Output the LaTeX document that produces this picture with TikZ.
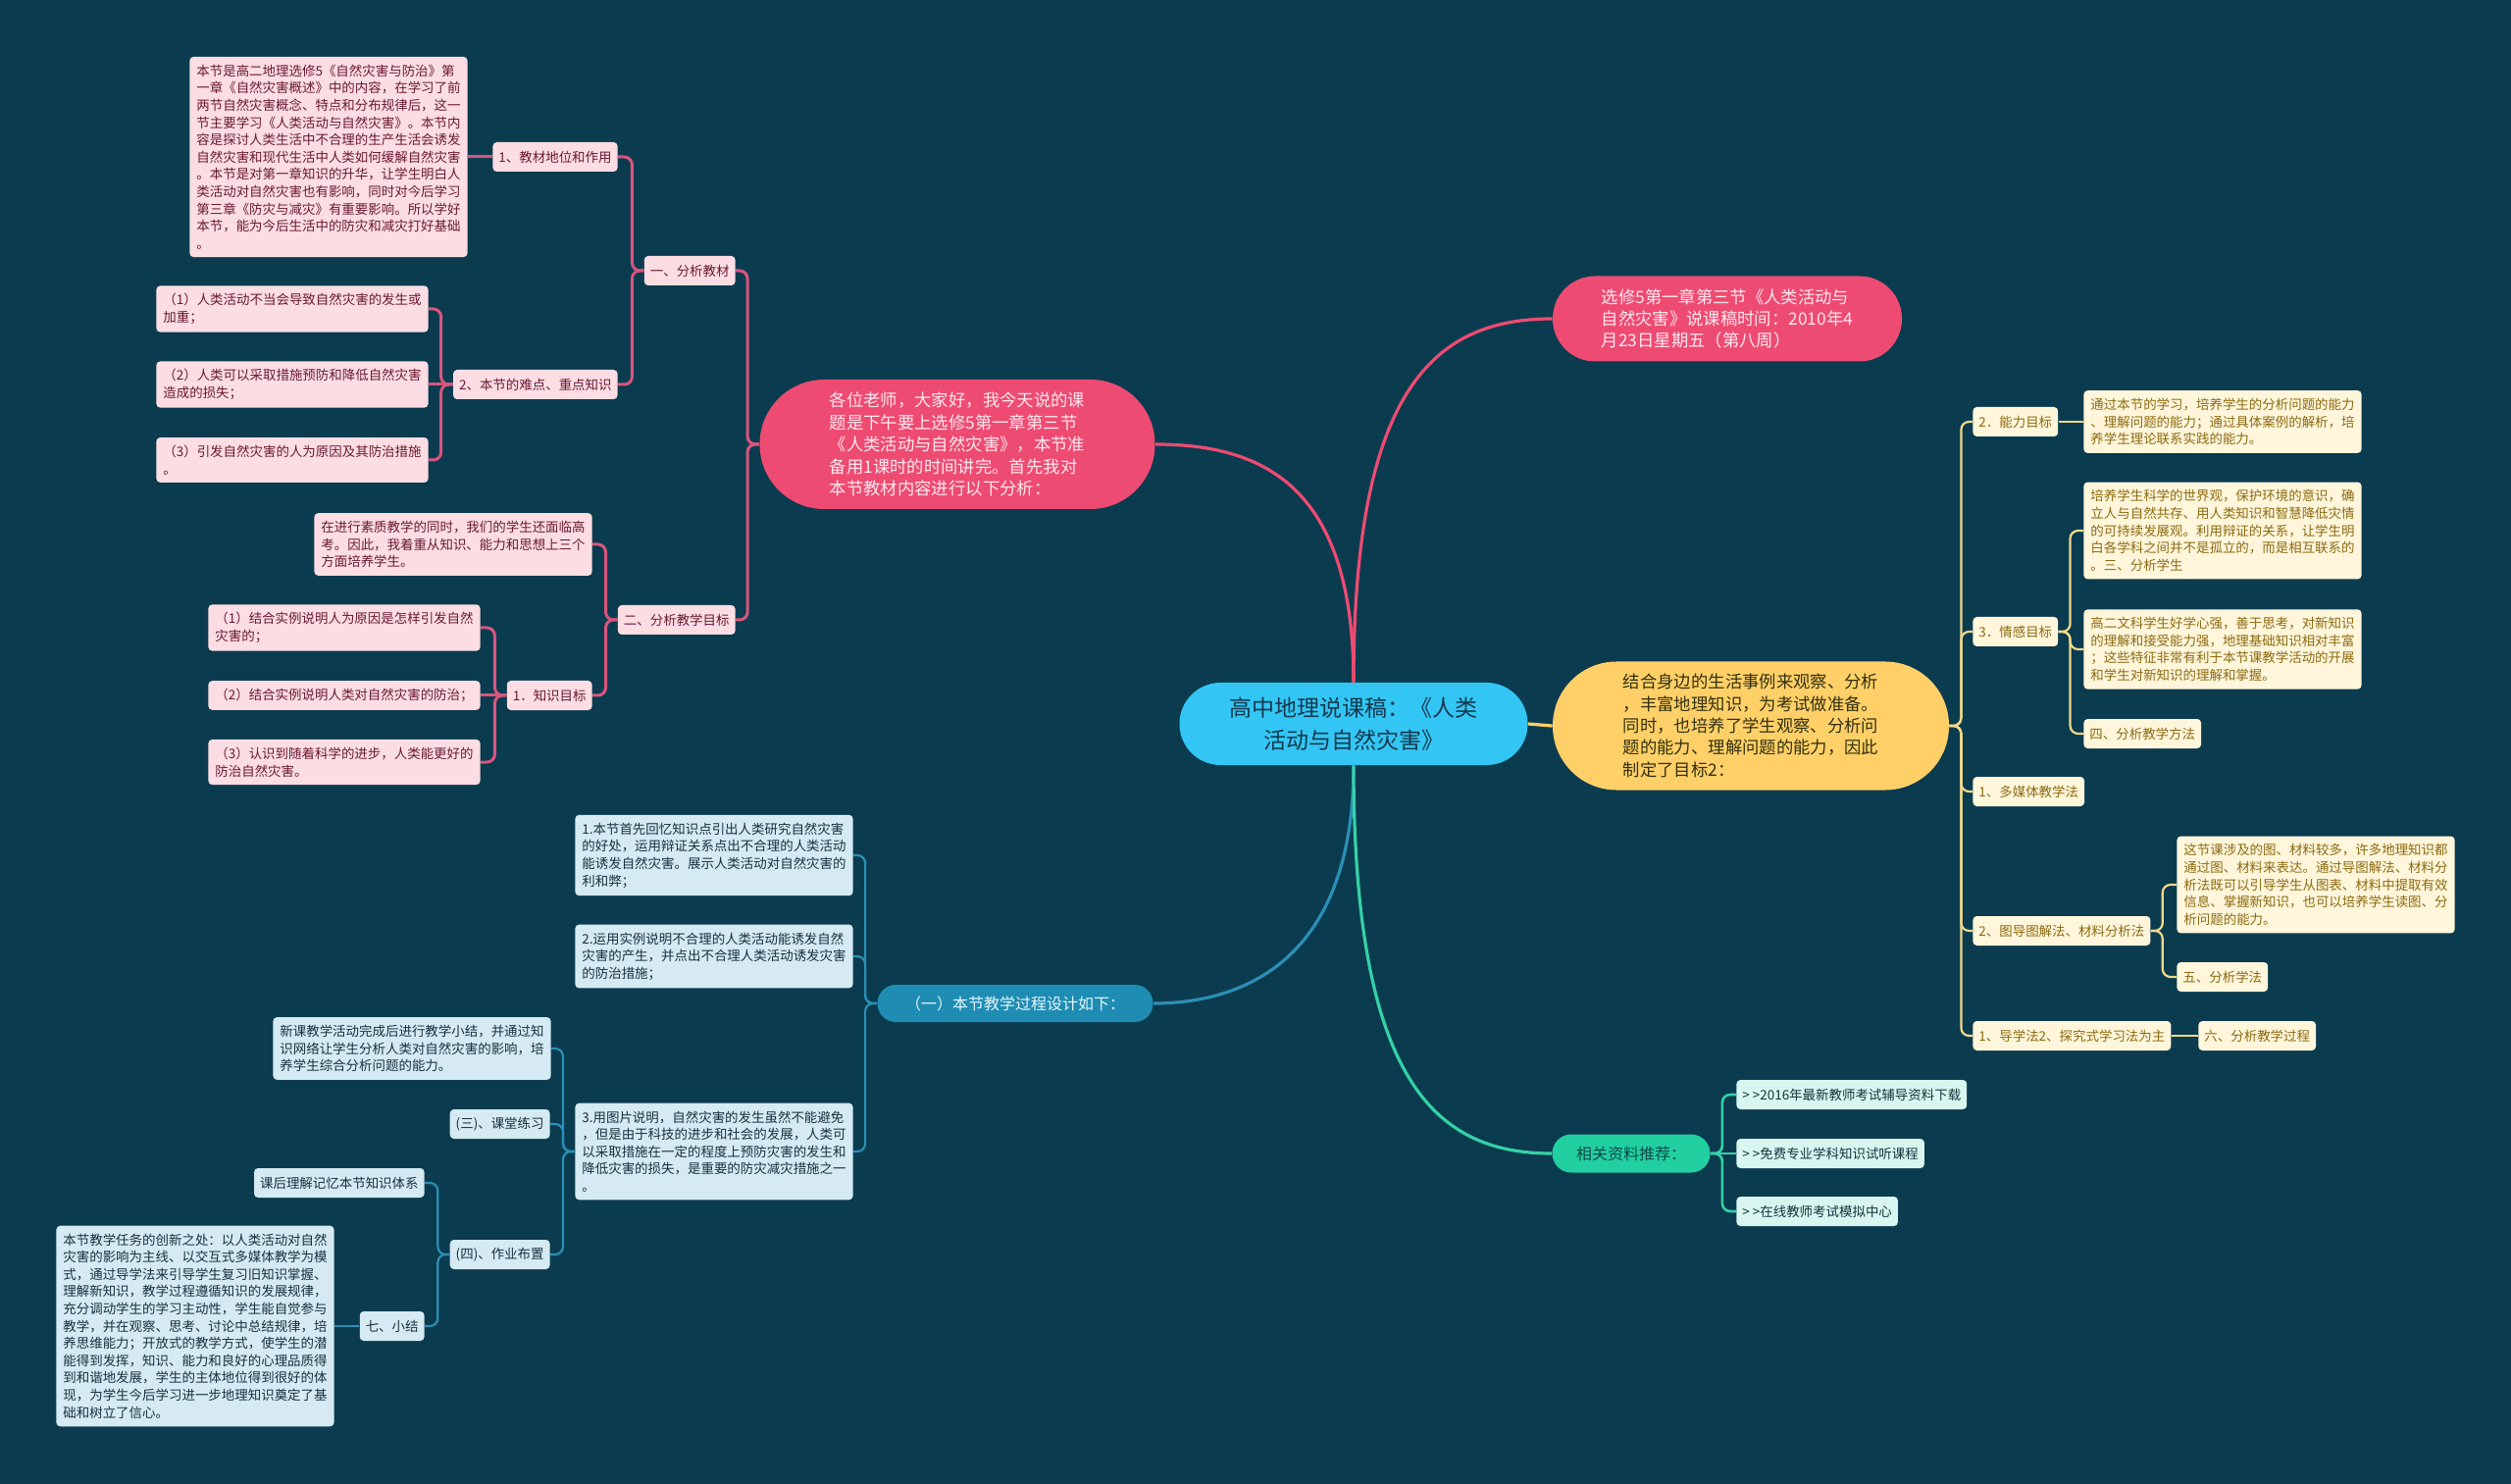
\documentclass[tikz,border=0pt]{standalone}
\usepackage{fontspec}
\setmainfont{Noto Sans CJK SC}
\usetikzlibrary{calc}
\definecolor{bgc}{HTML}{0B3B4F}
\definecolor{cmain}{HTML}{33C6F4}
\definecolor{ctext}{HTML}{14384C}
\definecolor{pkmain}{HTML}{EE4B72}
\definecolor{pkmtext}{HTML}{FFE9EF}
\definecolor{pkline}{HTML}{D9557E}
\definecolor{pkleaf}{HTML}{FCDDE4}
\definecolor{pktext}{HTML}{6A1A33}
\definecolor{ylmain}{HTML}{FFD068}
\definecolor{ylmtext}{HTML}{33300F}
\definecolor{ylline}{HTML}{F3D98A}
\definecolor{ylleaf}{HTML}{FFF6DB}
\definecolor{yltext}{HTML}{8C6A12}
\definecolor{blmain}{HTML}{1F8DB3}
\definecolor{blmtext}{HTML}{E6F6FC}
\definecolor{blline}{HTML}{2B8FB5}
\definecolor{blleaf}{HTML}{D5EAF2}
\definecolor{bltext}{HTML}{17323F}
\definecolor{grmain}{HTML}{22CFA0}
\definecolor{grmtext}{HTML}{0F4A4A}
\definecolor{grline}{HTML}{34D1A6}
\definecolor{grleaf}{HTML}{D8F6EF}
\definecolor{grtext}{HTML}{13343C}
\newcommand\fleaf{\fontsize{6.73pt}{8.8pt}\selectfont}
\newcommand\fmid{\fontsize{8.67pt}{11.2pt}\selectfont}
\newcommand\fsml{\fontsize{8pt}{10pt}\selectfont}
\newcommand\fbig{\fontsize{11.5pt}{16.5pt}\selectfont}
\newcommand\LC[3]{\draw[#1] (#2.west) -- ++(-12,0) |- (#3.east);}
\newcommand\RC[3]{\draw[#1] (#2.east) -- ++(12,0) |- (#3.west);}
\newcommand\LS[3]{\draw[#1] (#2.west) -- (#3.east);}
\newcommand\RS[3]{\draw[#1] (#2.east) -- (#3.west);}
\begin{document}
\begin{tikzpicture}[x=0.5pt,y=-0.5pt,
  leaf/.style={align=left, inner xsep=3.5pt, inner ysep=4pt, rounded corners=2pt, font=\fleaf},
  lab/.style={inner xsep=3pt, inner ysep=0pt, minimum height=15pt, rounded corners=2pt, font=\fleaf},
  pk/.style={fill=pkleaf, text=pktext},
  yl/.style={fill=ylleaf, text=yltext},
  bl/.style={fill=blleaf, text=bltext},
  gr/.style={fill=grleaf, text=grtext},
  pill/.style={inner sep=0pt, align=left},
  plink/.style={draw=pkline, line width=1.5pt, rounded corners=4pt},
  ylink/.style={draw=ylline, line width=1.1pt, rounded corners=4pt},
  blink/.style={draw=blline, line width=1.1pt, rounded corners=4pt},
  glink/.style={draw=grline, line width=1.3pt, rounded corners=4pt},
  mainlink/.style={line width=1.6pt}
]
\fill[bgc] (0,0) rectangle (2560,1513);
\useasboundingbox (0,0) rectangle (2560,1513);

% ---------- main nodes ----------
\node[pill, align=center, fill=cmain, text=ctext, font=\fbig, minimum width=177.5pt, minimum height=42pt, rounded corners=20.9pt] (c) at (1380,738)
  {高中地理说课稿：《人类\\活动与自然灾害》};

\node[pill, fill=pkmain, text=pkmtext, font=\fmid, minimum width=201.5pt, minimum height=66pt, rounded corners=32.9pt] (p0) at (976,453)
  {各位老师，大家好，我今天说的课\\题是下午要上选修5第一章第三节\\《人类活动与自然灾害》，本节准\\备用1课时的时间讲完。首先我对\\本节教材内容进行以下分析：};

\node[pill, fill=pkmain, text=pkmtext, font=\fmid, minimum width=178pt, minimum height=43.5pt, rounded corners=21.6pt] (r1) at (1761,325)
  {选修5第一章第三节《人类活动与\\自然灾害》说课稿时间：2010年4\\月23日星期五（第八周）};

\node[pill, fill=ylmain, text=ylmtext, font=\fmid, minimum width=202pt, minimum height=65.5pt, rounded corners=32.6pt] (y0) at (1785,740)
  {结合身边的生活事例来观察、分析\\，丰富地理知识，为考试做准备。\\同时，也培养了学生观察、分析问\\题的能力、理解问题的能力，因此\\制定了目标2：};

\node[pill, fill=blmain, text=blmtext, font=\fsml, minimum width=140.5pt, minimum height=19pt, rounded corners=9.4pt] (b0) at (1035,1023)
  {（一）本节教学过程设计如下：};

\node[pill, fill=grmain, text=grmtext, font=\fsml, minimum width=80.5pt, minimum height=19.5pt, rounded corners=9.7pt] (g0) at (1663,1176)
  {相关资料推荐：};

% ---------- pink left branch ----------
\node[lab,pk,anchor=east] (pA) at (750,276) {一、分析教材};
\node[lab,pk,anchor=east] (pA1) at (630,160) {1、教材地位和作用};
\node[leaf,pk,anchor=east] (pA1t) at (477,160) {本节是高二地理选修5《自然灾害与防治》第\\一章《自然灾害概述》中的内容，在学习了前\\两节自然灾害概念、特点和分布规律后，这一\\节主要学习《人类活动与自然灾害》。本节内\\容是探讨人类生活中不合理的生产生活会诱发\\自然灾害和现代生活中人类如何缓解自然灾害\\。本节是对第一章知识的升华，让学生明白人\\类活动对自然灾害也有影响，同时对今后学习\\第三章《防灾与减灾》有重要影响。所以学好\\本节，能为今后生活中的防灾和减灾打好基础\\。};
\node[lab,pk,anchor=east] (pA2) at (630,392) {2、本节的难点、重点知识};
\node[leaf,pk,anchor=east] (pA2a) at (437,315) {（1）人类活动不当会导致自然灾害的发生或\\加重；};
\node[leaf,pk,anchor=east] (pA2b) at (437,392) {（2）人类可以采取措施预防和降低自然灾害\\造成的损失；};
\node[leaf,pk,anchor=east] (pA2c) at (437,469) {（3）引发自然灾害的人为原因及其防治措施\\。};
\node[lab,pk,anchor=east] (pB) at (750,632) {二、分析教学目标};
\node[leaf,pk,anchor=east] (pB1) at (604,555) {在进行素质教学的同时，我们的学生还面临高\\考。因此，我着重从知识、能力和思想上三个\\方面培养学生。};
\node[lab,pk,anchor=east] (pB2) at (604,709) {1．知识目标};
\node[leaf,pk,anchor=east] (pB2a) at (490,640) {（1）结合实例说明人为原因是怎样引发自然\\灾害的；};
\node[leaf,pk,anchor=east] (pB2b) at (490,709) {（2）结合实例说明人类对自然灾害的防治；};
\node[leaf,pk,anchor=east] (pB2c) at (490,777) {（3）认识到随着科学的进步，人类能更好的\\防治自然灾害。};

% ---------- blue branch ----------
\node[leaf,bl,anchor=east] (b1) at (870,872) {1.本节首先回忆知识点引出人类研究自然灾害\\的好处，运用辩证关系点出不合理的人类活动\\能诱发自然灾害。展示人类活动对自然灾害的\\利和弊；};
\node[leaf,bl,anchor=east] (b2) at (870,975) {2.运用实例说明不合理的人类活动能诱发自然\\灾害的产生，并点出不合理人类活动诱发灾害\\的防治措施；};
\node[leaf,bl,anchor=east] (b3) at (870,1174) {3.用图片说明，自然灾害的发生虽然不能避免\\，但是由于科技的进步和社会的发展，人类可\\以采取措施在一定的程度上预防灾害的发生和\\降低灾害的损失，是重要的防灾减灾措施之一\\。};
\node[leaf,bl,anchor=east] (b3a) at (562,1069) {新课教学活动完成后进行教学小结，并通过知\\识网络让学生分析人类对自然灾害的影响，培\\养学生综合分析问题的能力。};
\node[lab,bl,anchor=east] (b3b) at (561,1146) {(三)、课堂练习};
\node[lab,bl,anchor=east] (b3c) at (561,1279) {(四)、作业布置};
\node[lab,bl,anchor=east] (b3c1) at (433,1206) {课后理解记忆本节知识体系};
\node[lab,bl,anchor=east] (b3c2) at (433,1352) {七、小结};
\node[leaf,bl,anchor=east] (b3c2t) at (341,1352) {本节教学任务的创新之处：以人类活动对自然\\灾害的影响为主线、以交互式多媒体教学为模\\式，通过导学法来引导学生复习旧知识掌握、\\理解新知识，教学过程遵循知识的发展规律，\\充分调动学生的学习主动性，学生能自觉参与\\教学，并在观察、思考、讨论中总结规律，培\\养思维能力；开放式的教学方式，使学生的潜\\能得到发挥，知识、能力和良好的心理品质得\\到和谐地发展，学生的主体地位得到很好的体\\现，为学生今后学习进一步地理知识奠定了基\\础和树立了信心。};

% ---------- yellow branch ----------
\node[lab,yl,anchor=west] (y1) at (2011,430) {2．能力目标};
\node[leaf,yl,anchor=west] (y1t) at (2124,430) {通过本节的学习，培养学生的分析问题的能力\\、理解问题的能力；通过具体案例的解析，培\\养学生理论联系实践的能力。};
\node[lab,yl,anchor=west] (y2) at (2011,644) {3．情感目标};
\node[leaf,yl,anchor=west] (y2a) at (2124,541) {培养学生科学的世界观，保护环境的意识，确\\立人与自然共存、用人类知识和智慧降低灾情\\的可持续发展观。利用辩证的关系，让学生明\\白各学科之间并不是孤立的，而是相互联系的\\。三、分析学生};
\node[leaf,yl,anchor=west] (y2b) at (2124,662) {高二文科学生好学心强，善于思考，对新知识\\的理解和接受能力强，地理基础知识相对丰富\\；这些特征非常有利于本节课教学活动的开展\\和学生对新知识的理解和掌握。};
\node[lab,yl,anchor=west] (y2c) at (2124,748) {四、分析教学方法};
\node[lab,yl,anchor=west] (y3) at (2011,807) {1、多媒体教学法};
\node[lab,yl,anchor=west] (y4) at (2011,949) {2、图导图解法、材料分析法};
\node[leaf,yl,anchor=west] (y4a) at (2219,902) {这节课涉及的图、材料较多，许多地理知识都\\通过图、材料来表达。通过导图解法、材料分\\析法既可以引导学生从图表、材料中提取有效\\信息、掌握新知识，也可以培养学生读图、分\\析问题的能力。};
\node[lab,yl,anchor=west] (y4b) at (2219,996) {五、分析学法};
\node[lab,yl,anchor=west] (y5) at (2011,1056) {1、导学法2、探究式学习法为主};
\node[lab,yl,anchor=west] (y5a) at (2241,1056) {六、分析教学过程};

% ---------- green branch ----------
\node[lab,gr,anchor=west] (g1) at (1770,1116) {>\hspace{1.5pt}>2016年最新教师考试辅导资料下载};
\node[lab,gr,anchor=west] (g2) at (1770,1176) {>\hspace{1.5pt}>免费专业学科知识试听课程};
\node[lab,gr,anchor=west] (g3) at (1770,1235) {>\hspace{1.5pt}>在线教师考试模拟中心};

% ---------- main curves ----------
\draw[mainlink, draw=pkmain] (c.north) .. controls ($(c.north)+(0,-200)$) and ($(p0.east)+(110,0)$) .. (p0.east);
\draw[mainlink, draw=pkmain] (c.north) .. controls ($(c.north)+(0,-300)$) and ($(r1.west)+(-120,0)$) .. (r1.west);
\draw[mainlink, draw=ylmain] (c.east) -- (y0.west);
\draw[mainlink, draw=blline] (c.south) .. controls ($(c.south)+(0,200)$) and ($(b0.east)+(90,0)$) .. (b0.east);
\draw[mainlink, draw=grline] (c.south) .. controls ($(c.south)+(0,320)$) and ($(g0.west)+(-120,0)$) .. (g0.west);

% ---------- pink connectors ----------
\LC{plink}{p0}{pA}
\LC{plink}{p0}{pB}
\LC{plink}{pA}{pA1}
\LC{plink}{pA}{pA2}
\LS{plink}{pA1}{pA1t}
\LC{plink}{pA2}{pA2a}
\LS{plink}{pA2}{pA2b}
\LC{plink}{pA2}{pA2c}
\LC{plink}{pB}{pB1}
\LC{plink}{pB}{pB2}
\LC{plink}{pB2}{pB2a}
\LS{plink}{pB2}{pB2b}
\LC{plink}{pB2}{pB2c}

% ---------- blue connectors ----------
\LC{blink}{b0}{b1}
\LC{blink}{b0}{b2}
\LC{blink}{b0}{b3}
\LC{blink}{b3}{b3a}
\LC{blink}{b3}{b3b}
\LC{blink}{b3}{b3c}
\LC{blink}{b3c}{b3c1}
\LC{blink}{b3c}{b3c2}
\LS{blink}{b3c2}{b3c2t}

% ---------- yellow connectors ----------
\RC{ylink}{y0}{y1}
\RC{ylink}{y0}{y2}
\RC{ylink}{y0}{y3}
\RC{ylink}{y0}{y4}
\RC{ylink}{y0}{y5}
\RS{ylink}{y1}{y1t}
\RC{ylink}{y2}{y2a}
\RC{ylink}{y2}{y2b}
\RC{ylink}{y2}{y2c}
\RC{ylink}{y4}{y4a}
\RC{ylink}{y4}{y4b}
\RS{ylink}{y5}{y5a}

% ---------- green connectors ----------
\RC{glink}{g0}{g1}
\RS{glink}{g0}{g2}
\RC{glink}{g0}{g3}
\end{tikzpicture}
\end{document}
